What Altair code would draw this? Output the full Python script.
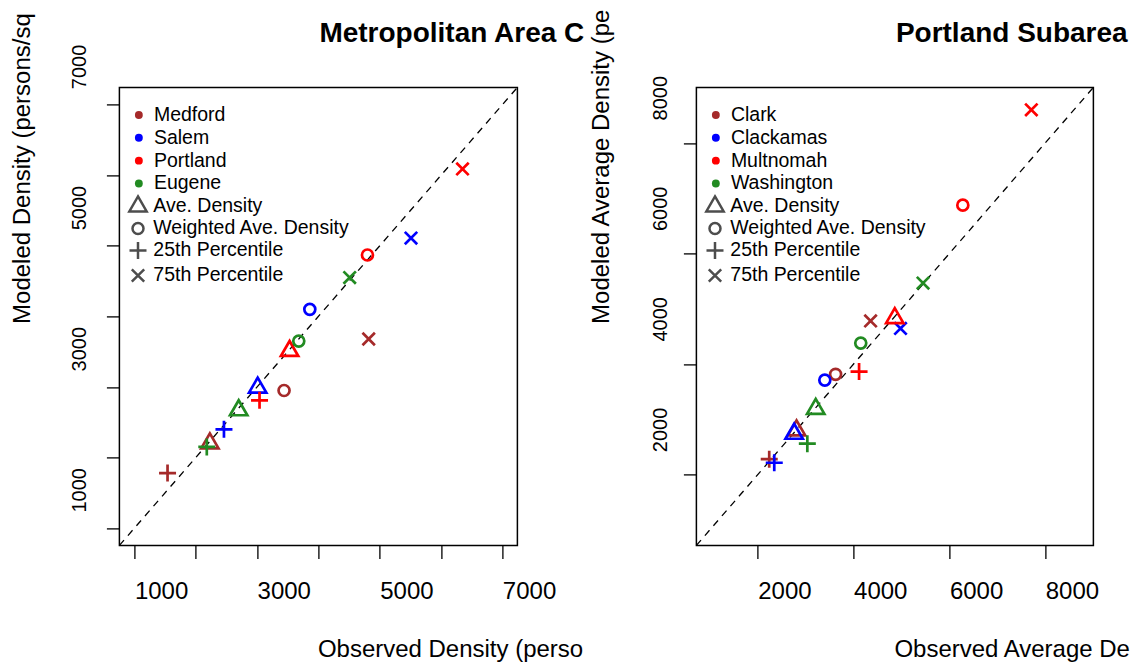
import altair as alt
import pandas as pd

FONT = "Liberation Sans"

# ---------------- data ----------------
measures = ["Ave. Density", "Weighted Ave. Density", "25th Percentile", "75th Percentile"]
colors = ["#A52A2A", "#0000FF", "#FF0000", "#228B22"]

# Metropolitan areas: values in order of `measures`
metro_cities = ["Medford", "Salem", "Portland", "Eugene"]
medford_obs = [2230, 3440, 1540, 4820]
medford_mod = [2200, 2950, 1780, 3680]
salem_obs = [3010, 3860, 2460, 5510]
salem_mod = [2990, 4100, 2400, 5110]
portland_obs = [3530, 4800, 3040, 6350]
portland_mod = [3510, 4870, 2810, 6090]
eugene_obs = [2700, 3680, 2180, 4510]
eugene_mod = [2670, 3650, 2150, 4550]

# Portland subareas
sub_cities = ["Clark", "Clackamas", "Multnomah", "Washington"]
clark_obs = [2810, 3625, 2240, 4355]
clark_mod = [2800, 3815, 2280, 4780]
clackamas_obs = [2760, 3400, 2345, 4980]
clackamas_mod = [2740, 3710, 2215, 4645]
multnomah_obs = [4860, 6280, 4115, 7710]
multnomah_mod = [4830, 6875, 3865, 8600]
washington_obs = [3210, 4150, 3035, 5450]
washington_mod = [3190, 4380, 2560, 5465]

metro_domain = [755, 7245]
metro_ticks = [1000, 2000, 3000, 4000, 5000, 6000, 7000]
sub_domain = [720, 9005]
sub_ticks = [2000, 4000, 6000, 8000]

# custom stroked symbols (R pch 2, 1, 3, 4)
shape_paths = [
    "M0,-1L0.866,0.5L-0.866,0.5Z",
    "M0.55,0A0.55,0.55 0 1,1 -0.55,0A0.55,0.55 0 1,1 0.55,0Z",
    "M-0.85,0L0.85,0M0,-0.85L0,0.85",
    "M-0.62,-0.62L0.62,0.62M-0.62,0.62L0.62,-0.62",
]

H = 458


def build_df(cities, obs_lists, mod_lists):
    rows = []
    for c, ol, ml in zip(cities, obs_lists, mod_lists):
        for m, o, v in zip(measures, ol, ml):
            rows.append({"city": c, "measure": m, "obs": o, "mod": v})
    return pd.DataFrame(rows)


def panel(df, cities, dom, ticks, label_expr, title, xtitle, ytitle,
          ylab_offset, ylab_pad, ytitle_x, width):
    xs = alt.Scale(domain=dom, nice=False, zero=False)
    ys = alt.Scale(domain=dom, nice=False, zero=False)
    common = dict(values=ticks, format="d", tickSize=13, tickColor="black",
                  tickWidth=1.3, domain=False, grid=False, labelFont=FONT,
                  labelColor="black", labelOverlap=False, labelFlush=False,
                  titleFont=FONT, titleColor="black", titleFontWeight="normal")
    if label_expr:
        common["labelExpr"] = label_expr
    xaxis = alt.Axis(labelFontSize=24, labelAngle=0, labelAlign="left",
                     labelBaseline="alphabetic", labelPadding=40,
                     title=xtitle, titleFontSize=24, titleAlign="left",
                     titleBaseline="alphabetic", titleX=width / 2 - 1, titleY=111,
                     titleAngle=0, **common)
    yaxis = alt.Axis(labelFontSize=20, labelAngle=270, labelAlign="left",
                     labelBaseline="alphabetic", labelPadding=ylab_pad,
                     labelOffset=ylab_offset,
                     title=ytitle, titleFontSize=24, titleAngle=270,
                     titleAlign="left", titleBaseline="alphabetic",
                     titleX=ytitle_x, titleY=236, **common)
    X = alt.X("obs:Q", scale=xs, axis=xaxis)
    Y = alt.Y("mod:Q", scale=ys, axis=yaxis)

    line_df = pd.DataFrame({"obs": dom, "mod": dom})
    diag = alt.Chart(line_df).mark_line(color="black", strokeDash=[7, 6],
                                        strokeWidth=1.3).encode(x=X, y=Y)

    city_scale = alt.Scale(domain=cities, range=colors)

    # invisible layer that only carries the coloured-dot legend
    dots = alt.Chart(df).mark_circle(size=0, opacity=1).encode(
        x=X, y=Y,
        fill=alt.Fill("city:N", scale=city_scale,
                      legend=alt.Legend(title=None, orient="none", legendX=9.7,
                                        legendY=17.8, padding=0, direction="vertical",
                                        symbolType="circle", symbolSize=62,
                                        symbolStrokeWidth=0, symbolOpacity=1,
                                        labelFontSize=19.5, labelFont=FONT,
                                        labelColor="black", labelOffset=5.3,
                                        labelLimit=0, rowPadding=1.85,
                                        labelBaseline="middle")),
    )

    pts = alt.Chart(df).mark_point(filled=False, opacity=1, strokeWidth=2.7,
                                   size=400).encode(
        x=X, y=Y,
        stroke=alt.Stroke("city:N", scale=city_scale, legend=None),
        shape=alt.Shape("measure:N",
                        scale=alt.Scale(domain=measures, range=shape_paths),
                        legend=alt.Legend(title=None, orient="none", legendX=7.1,
                                          legendY=107.6, padding=0, direction="vertical",
                                          symbolSize=400, symbolStrokeWidth=2.5,
                                          symbolStrokeColor="#4d4d4d",
                                          symbolOpacity=1,
                                          labelFontSize=19.5, labelFont=FONT,
                                          labelColor="black", labelOffset=3.8,
                                          labelLimit=0, rowPadding=-2.45,
                                          labelBaseline="middle")),
    )

    ttl = alt.Chart(pd.DataFrame({"t": [title]})).mark_text(
        font=FONT, fontSize=28, fontWeight="bold", align="left",
        baseline="alphabetic", color="black").encode(
        text="t:N", x=alt.value(width / 2 + 1), y=alt.value(-45))

    return alt.layer(diag, dots, pts, ttl).properties(width=width, height=H)


metro_df = build_df(metro_cities,
                    [medford_obs, salem_obs, portland_obs, eugene_obs],
                    [medford_mod, salem_mod, portland_mod, eugene_mod])
sub_df = build_df(sub_cities,
                  [clark_obs, clackamas_obs, multnomah_obs, washington_obs],
                  [clark_mod, clackamas_mod, multnomah_mod, washington_mod])

left = panel(metro_df, metro_cities, metro_domain, metro_ticks,
             "datum.value % 2000 == 1000 ? datum.label : ''",
             "Metropolitan Area C", "Observed Density (perso",
             "Modeled Density (persons/sq", -16, 21, -90, 398)
right = panel(sub_df, sub_cities, sub_domain, sub_ticks, None,
              "Portland Subarea", "Observed Average De",
              "Modeled Average Density (pe", -23, 17, -87.5, 397)

chart = alt.hconcat(left, right, spacing=179, bounds="flush").resolve_scale(
    x="independent", y="independent", fill="independent",
    stroke="independent", shape="independent"
).resolve_legend(fill="independent", shape="independent").configure(
    font=FONT,
    view=alt.ViewConfig(stroke="black", strokeWidth=1.5),
).properties(
    background="white", padding={"left": 9.4, "top": 6.4, "right": 0, "bottom": 0}
)

chart.save("out.html", embed_options={"renderer": "svg", "actions": False})
